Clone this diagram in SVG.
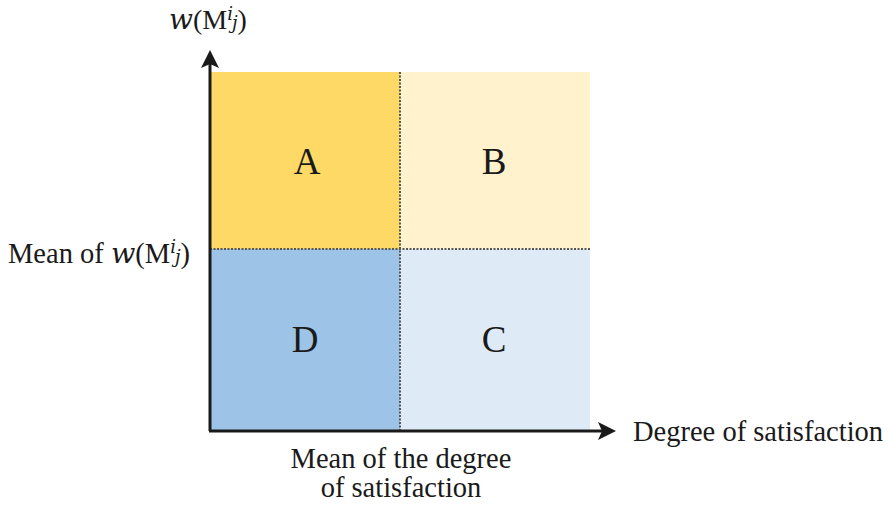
<svg xmlns="http://www.w3.org/2000/svg" width="891" height="505" viewBox="0 0 891 505">
<style>
text{font-family:"Liberation Serif","Times New Roman",serif;fill:#1a1a1a}
.q{font-size:37px;text-anchor:middle}
.lab{font-size:28.5px}
tspan.m{font-family:"DejaVu Serif","Liberation Serif",serif;font-style:italic}
.div{stroke:#555;stroke-width:2;stroke-dasharray:2 1.5}
.axis{stroke:#1a1a1a;stroke-width:3;fill:none}
</style>
<g id="A"><rect x="210" y="72" width="190" height="177" fill="#FFD966"/><text class="q" x="307" y="174" font-family="Liberation Serif, serif">A</text></g>
<g id="B"><rect x="400" y="72" width="190" height="177" fill="#FFF2CC"/><text class="q" x="494" y="174" font-family="Liberation Serif, serif">B</text></g>
<g id="D"><rect x="210" y="249" width="190" height="182" fill="#9DC3E6"/><text class="q" x="305" y="352" font-family="Liberation Serif, serif">D</text></g>
<g id="C"><rect x="400" y="249" width="190" height="182" fill="#DEEBF7"/><text class="q" x="494" y="352" font-family="Liberation Serif, serif">C</text></g>
<g id="connectors">
<line class="div" x1="400" y1="72" x2="400" y2="431"/>
<line class="div" x1="210" y1="249" x2="590" y2="249"/>
<path class="axis" d="M210,431 L210,60"/>
<path d="M210,50 L219,68 L210,64 L201,68 Z" fill="#1a1a1a"/>
<path class="axis" d="M209,431 L605,431"/>
<path d="M616,431 L598,422 L602,431 L598,440 Z" fill="#1a1a1a"/>
</g>
<g id="labels">
<text x="169" y="29" font-family="Liberation Serif, serif" font-size="28"><tspan class="m">w</tspan>(M<tspan class="m" font-size="18" dy="-9">i</tspan><tspan class="m" font-size="18" dy="9" dx="-1">j</tspan>)</text>
<text class="lab" x="8" y="263" font-family="Liberation Serif, serif">Mean of <tspan class="m">w</tspan>(M<tspan class="m" font-size="18" dy="-10">i</tspan><tspan class="m" font-size="18" dy="10" dx="-1">j</tspan>)</text>
<text class="lab" x="633" y="441" font-family="Liberation Serif, serif">Degree of satisfaction</text>
<text class="lab" x="401" y="468" text-anchor="middle" font-family="Liberation Serif, serif">Mean of the degree</text>
<text class="lab" x="401" y="497" text-anchor="middle" font-family="Liberation Serif, serif">of satisfaction</text>
</g>
</svg>
